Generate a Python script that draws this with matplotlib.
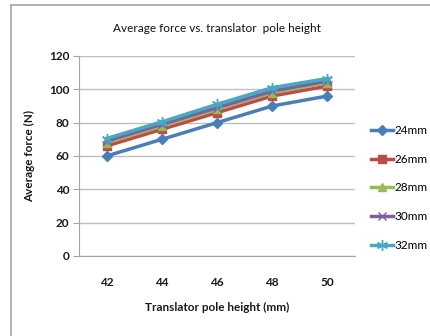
import matplotlib
matplotlib.use("Agg")
import matplotlib.pyplot as plt
from matplotlib.lines import Line2D

heights = [42, 44, 46, 48, 50]
series_names = ["24mm", "26mm", "28mm", "30mm", "32mm"]
f24 = [60, 70, 80, 90, 96]
f26 = [66, 76, 86, 96, 102]
f28 = [68, 78, 88, 98, 104]
f30 = [69, 79, 89, 99, 105]
f32 = [70.5, 80.5, 91, 101, 106.5]
yticks = [0, 20, 40, 60, 80, 100, 120]

plt.rcParams['font.family'] = ['Lato', 'DejaVu Sans']

fig = plt.figure(figsize=(4.30, 3.36), dpi=100)
# chart frame
fig.add_artist(Line2D([11/430, 11/430], [0, 1-5/336], color='#a6a6a6', lw=1.2, transform=fig.transFigure))
fig.add_artist(Line2D([11/430, 1], [1-5/336, 1-5/336], color='#a6a6a6', lw=1.2, transform=fig.transFigure))

ax = fig.add_axes([79/430, 1-256/336, 276/430, 200/336])

styles = [
    dict(color='#4A7EBB', marker='D', ms=5),
    dict(color='#BE4B48', marker='s', ms=5.5),
    dict(color='#98B954', marker='^', ms=6),
    dict(color='#7D60A0', marker='x', ms=6, mew=1),
    dict(color='#46AAC5', marker=(6, 2, 0), ms=8, mew=1),
]
data = [f24, f26, f28, f30, f32]
xs = list(range(len(heights)))
for name, vals, st in zip(series_names, data, styles):
    ax.plot(xs, vals, lw=2.5, label=name, **st)

ax.set_xlim(-0.5, len(heights) - 0.5)
ax.set_ylim(0, 120)
ax.set_yticks(yticks)
ax.set_yticklabels([str(v) for v in yticks], fontsize=8.5, fontweight='bold', color='#1a1a1a')
ax.set_xticks(xs)
ax.set_xticklabels([str(h) for h in heights], fontsize=8.5, fontweight='bold', color='#1a1a1a')
ax.tick_params(axis='y', length=4, color='#a6a6a6', pad=3)
ax.tick_params(axis='x', length=0, pad=15)
ax.yaxis.grid(True, color='#bfbfbf', lw=1)
ax.set_axisbelow(True)
for s in ['top', 'right']:
    ax.spines[s].set_visible(False)
for s in ['left', 'bottom']:
    ax.spines[s].set_color('#a6a6a6')

ax.set_title("Average force vs. translator  pole height", fontsize=8.5, color='#111111', pad=17)
ax.set_xlabel("Translator pole height (mm)", fontsize=8.5, fontweight='bold', color='#1a1a1a', labelpad=10)
ax.set_ylabel("Average force (N)", fontsize=8.5, fontweight='bold', color='#1a1a1a', labelpad=10)

leg = ax.legend(loc='center left', bbox_to_anchor=(1.04, 0.34), frameon=False,
                fontsize=8.5, handlelength=1.9, handletextpad=0.1, labelspacing=1.5,
                borderaxespad=0)
fig.savefig("out.png", dpi=100)
